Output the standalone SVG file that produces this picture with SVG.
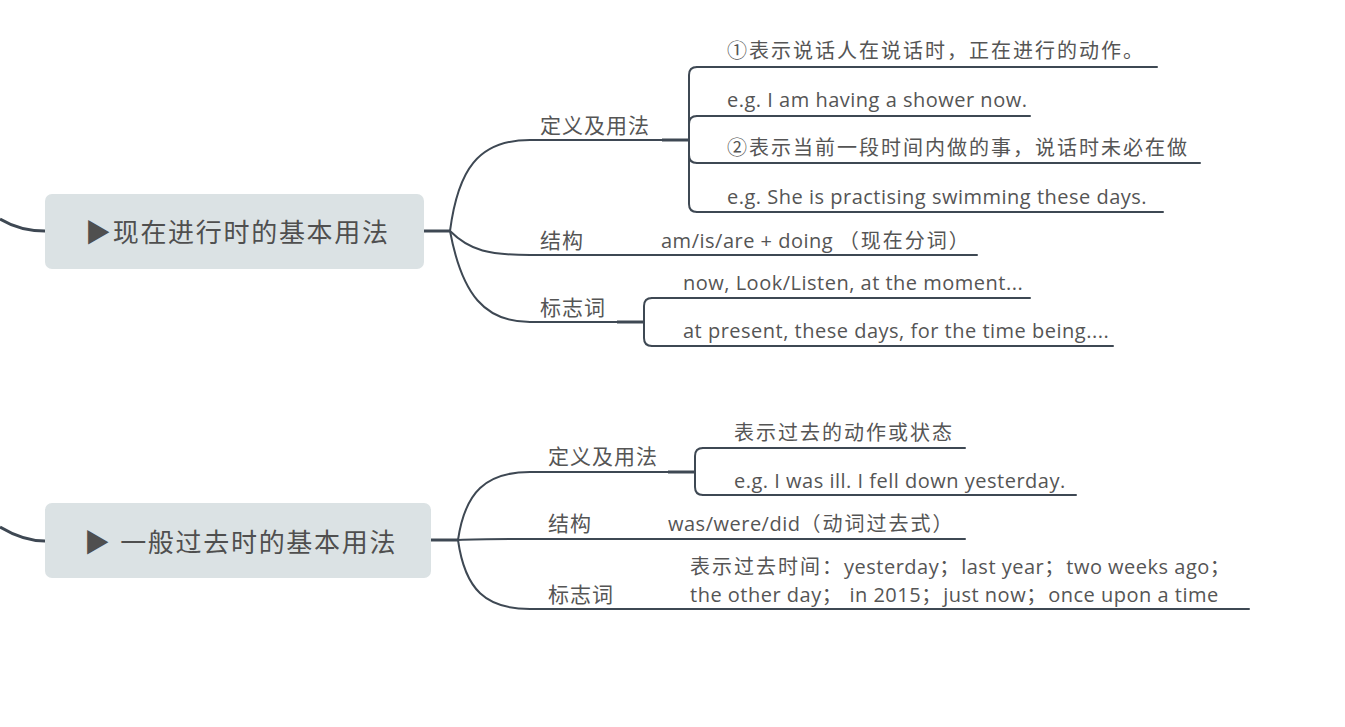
<svg xmlns="http://www.w3.org/2000/svg" width="1345" height="727" viewBox="0 0 1345 727">
<style>
.bg{fill:#ffffff}
.box{fill:#dbe2e4}
.ln{fill:none;stroke:#3e4853;stroke-width:2;stroke-linecap:round}
.thick{fill:none;stroke:#3e4853;stroke-width:3}
.t{font-family:"Open Sans","Noto Sans CJK SC",sans-serif;font-size:20px;fill:#555555;letter-spacing:0.5px}
.c{letter-spacing:2px}
.lab{font-family:"Open Sans","Noto Sans CJK SC",sans-serif;font-size:21px;fill:#555555;letter-spacing:1px}
.title{font-family:"Open Sans","Noto Sans CJK SC",sans-serif;font-size:26px;fill:#4f4f4f;letter-spacing:1.7px}
</style>
<rect class="bg" x="0" y="0" width="1345" height="727"/>
<g id="connectors">
<path class="thick" d="M0,219 C15,228 30,231 45,231"/>
<path class="thick" d="M424,231 H450"/>
<path class="ln" d="M450,231 C458,170 478,140 530,140"/>
<path class="ln" d="M450,231 C470,251 490,255 530,255"/>
<path class="ln" d="M450,231 C462,295 485,322 530,322"/>
<path class="thick" d="M662,140 H689"/>
<path class="ln" d="M689,140 V75 Q689,67 697,67"/>
<path class="ln" d="M689,140 V124 Q689,116 697,116"/>
<path class="ln" d="M689,140 V155 Q689,163 697,163"/>
<path class="ln" d="M689,140 V204 Q689,212 697,212"/>
<path class="thick" d="M617,322 H644"/>
<path class="ln" d="M644,322 V306 Q644,298 652,298"/>
<path class="ln" d="M644,322 V338 Q644,346 652,346"/>
<path class="thick" d="M0,527 C15,536 30,541 45,541"/>
<path class="thick" d="M431,540 H458"/>
<path class="ln" d="M458,540 C465,492 486,472 530,472"/>
<path class="ln" d="M458,540 C480,539 500,539 530,539"/>
<path class="ln" d="M458,540 C465,590 486,609 530,609"/>
<path class="thick" d="M668,472 H695"/>
<path class="ln" d="M695,472 V456 Q695,448 703,448"/>
<path class="ln" d="M695,472 V487 Q695,495 703,495"/>
</g>
<g id="node-present">
<rect class="box" x="45" y="194" width="379" height="75" rx="7"/>
<text class="title" x="85" y="242">▶现在进行时的基本用法</text>
</g>
<g id="p-def">
<path class="ln" d="M530,140 H662"/>
<text class="lab" x="540" y="133">定义及用法</text>
</g>
<g id="p-def-1">
<path class="ln" d="M697,67 H1157"/>
<text class="t c" x="727" y="58">①表示说话人在说话时，正在进行的动作。</text>
</g>
<g id="p-def-2">
<path class="ln" d="M697,116 H1030"/>
<text class="t" x="727" y="107">e.g. I am having a shower now.</text>
</g>
<g id="p-def-3">
<path class="ln" d="M697,163 H1200"/>
<text class="t c" x="727" y="155">②表示当前一段时间内做的事，说话时未必在做</text>
</g>
<g id="p-def-4">
<path class="ln" d="M697,212 H1163"/>
<text class="t" x="727" y="204">e.g. She is practising swimming these days.</text>
</g>
<g id="p-struct">
<path class="ln" d="M530,255 H977"/>
<text class="lab" x="540" y="248">结构</text>
<text class="t" x="661" y="248">am/is/are + doing <tspan class="c">（现在分词）</tspan></text>
</g>
<g id="p-sign">
<path class="ln" d="M530,322 H617"/>
<text class="lab" x="540" y="315">标志词</text>
</g>
<g id="p-sign-1">
<path class="ln" d="M652,298 H1030"/>
<text class="t" x="683" y="290">now, Look/Listen, at the moment...</text>
</g>
<g id="p-sign-2">
<path class="ln" d="M652,346 H1113"/>
<text class="t" x="683" y="338">at present, these days, for the time being....</text>
</g>
<g id="node-past">
<rect class="box" x="45" y="503" width="386" height="75" rx="7"/>
<text class="title" x="84" y="552">▶ 一般过去时的基本用法</text>
</g>
<g id="s-def">
<path class="ln" d="M530,472 H668"/>
<text class="lab" x="548" y="464">定义及用法</text>
</g>
<g id="s-def-1">
<path class="ln" d="M703,448 H965"/>
<text class="t c" x="734" y="440">表示过去的动作或状态</text>
</g>
<g id="s-def-2">
<path class="ln" d="M703,495 H1076"/>
<text class="t" x="734" y="488">e.g. I was ill. I fell down yesterday.</text>
</g>
<g id="s-struct">
<path class="ln" d="M530,539 H965"/>
<text class="lab" x="548" y="531">结构</text>
<text class="t" x="668" y="531">was/were/did<tspan class="c">（动词过去式）</tspan></text>
</g>
<g id="s-sign">
<path class="ln" d="M530,609 H1249"/>
<text class="lab" x="548" y="602">标志词</text>
<text class="t" x="690" y="574"><tspan class="c">表示过去时间：</tspan>yesterday<tspan class="c">；</tspan>last year<tspan class="c">；</tspan>two weeks ago<tspan class="c">；</tspan></text>
<text class="t" x="690" y="602">the other day<tspan class="c">；</tspan>  in 2015<tspan class="c">；</tspan>just now<tspan class="c">；</tspan>once upon a time</text>
</g>
</svg>
